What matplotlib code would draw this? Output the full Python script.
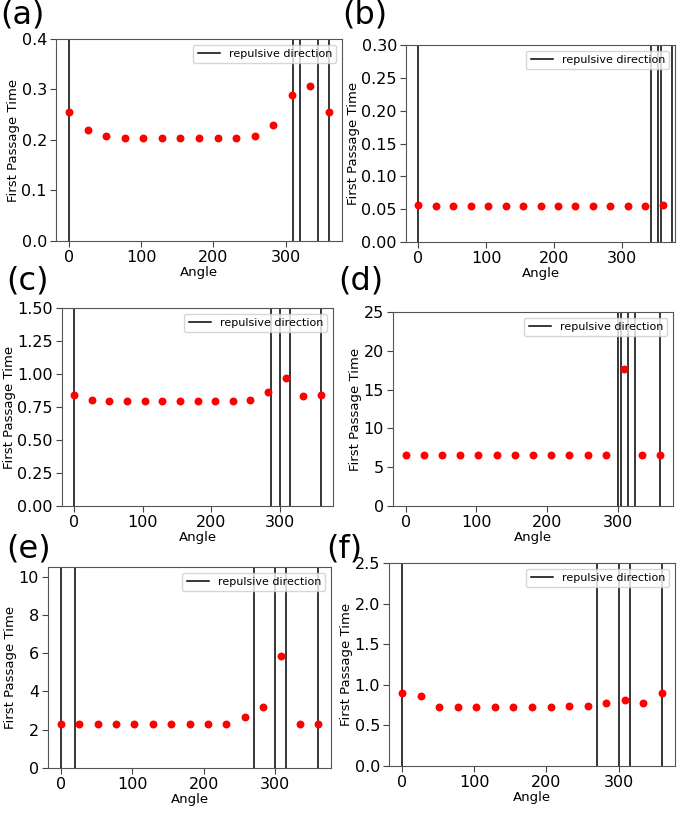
import matplotlib
matplotlib.use('Agg')
import matplotlib.pyplot as plt

angles = [0, 25.7, 51.4, 77.1, 102.9, 128.6, 154.3, 180, 205.7, 231.4,
          257.1, 282.9, 308.6, 334.3, 360]

fpt_a = [0.256, 0.220, 0.207, 0.204, 0.203, 0.203, 0.203, 0.203, 0.203, 0.204,
         0.208, 0.229, 0.289, 0.306, 0.256]
fpt_b = [0.0558, 0.0549, 0.0549, 0.0549, 0.0549, 0.0549, 0.0549, 0.0549, 0.0549,
         0.0549, 0.0549, 0.0549, 0.0549, 0.0549, 0.0558]
fpt_c = [0.843, 0.803, 0.799, 0.799, 0.799, 0.799, 0.799, 0.799, 0.799, 0.799,
         0.801, 0.861, 0.970, 0.831, 0.843]
fpt_d = [6.52, 6.52, 6.52, 6.52, 6.52, 6.52, 6.52, 6.52, 6.52, 6.52,
         6.52, 6.52, 17.67, 6.56, 6.52]
fpt_e = [2.32, 2.29, 2.29, 2.29, 2.29, 2.29, 2.29, 2.29, 2.29, 2.29,
         2.64, 3.18, 5.83, 2.29, 2.32]
fpt_f = [0.896, 0.864, 0.732, 0.731, 0.731, 0.731, 0.731, 0.731, 0.732, 0.736,
         0.744, 0.773, 0.814, 0.777, 0.896]

rep_a = [0, 310, 320, 345, 360]
rep_b = [0, 343, 353, 358, 373]
rep_c = [0, 288, 300, 315, 360]
rep_d = [300, 305, 315, 324, 360]
rep_e = [0, 20, 270, 300, 315, 360]
rep_f = [0, 270, 300, 315, 360]

ylims = [0.4, 0.30, 1.5, 25, 10.5, 2.5]
ysteps = [0.1, 0.05, 0.25, 5, 2, 0.5]
yfmt = ['%.1f', '%.2f', '%.2f', '%d', '%d', '%.1f']
labels = ['(a)', '(b)', '(c)', '(d)', '(e)', '(f)']

W, H = 685, 814
# axes boxes in pixels: left, right, top, bottom
boxes = [(56, 342, 39, 241), (406, 675, 45, 242),
         (62, 333, 308, 506), (393, 673, 312, 506),
         (48, 331, 567, 768), (389, 675, 563, 766)]
label_pos = [(0, 0), (342, 0), (6, 266), (338, 266), (6, 534), (326, 534)]

fig = plt.figure(figsize=(W / 100, H / 100), dpi=100)

panels = zip([fpt_a, fpt_b, fpt_c, fpt_d, fpt_e, fpt_f],
             [rep_a, rep_b, rep_c, rep_d, rep_e, rep_f])
for i, (fpt, rep) in enumerate(panels):
    l, r, t, b = boxes[i]
    ax = fig.add_axes([l / W, 1 - b / H, (r - l) / W, (b - t) / H])
    for k, a in enumerate(rep):
        ax.axvline(a, color='black', lw=1.1,
                   label='repulsive direction' if k == 0 else None)
    ax.scatter(angles, fpt, s=22, color='red', zorder=3)
    ax.set_xlim(-18, 378)
    ax.set_ylim(0, ylims[i])
    n = int(round(ylims[i] / ysteps[i] + 1e-9))
    yt = [ysteps[i] * j for j in range(n + 1) if ysteps[i] * j <= ylims[i] + 1e-9]
    ax.set_yticks(yt)
    ax.set_yticklabels([yfmt[i] % v for v in yt])
    ax.set_xticks([0, 100, 200, 300])
    ax.tick_params(labelsize=11.5, color='#444444', length=4.3, pad=2.2)
    ax.set_xlabel('Angle', fontsize=9.5, labelpad=1)
    ax.set_ylabel('First Passage Time', fontsize=9.5, labelpad=1)
    for s in ax.spines.values():
        s.set_color('#555555')
    ax.legend(loc='upper right', fontsize=8)
    fig.text(label_pos[i][0] / W, 1 - label_pos[i][1] / H, labels[i],
             fontsize=23, va='top', ha='left')

fig.savefig('out.png', dpi=100)
